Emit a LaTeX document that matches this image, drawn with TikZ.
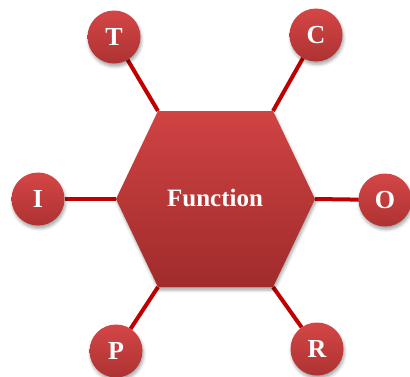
\documentclass[tikz,border=0pt]{standalone}
\usepackage{fontspec}
\setmainfont{Liberation Serif}
\usetikzlibrary{shadows.blur,backgrounds}
\definecolor{ctop}{HTML}{D44646}
\definecolor{cbot}{HTML}{AE3232}
\definecolor{htop}{HTML}{D04343}
\definecolor{hbot}{HTML}{A02B2B}
\definecolor{linkred}{HTML}{C00000}
\tikzset{
  x=1pt, y=1pt,
  ball/.style={circle, minimum size=53pt, inner sep=0pt, outer sep=0pt,
    top color=ctop, bottom color=cbot, draw=none,
    text=white, font=\fontsize{26}{26}\selectfont\bfseries,
    blur shadow={shadow xshift=1pt, shadow yshift=-3pt, shadow blur radius=3pt, shadow opacity=35}},
  link/.style={draw=linkred, line width=4pt},
  hexshape/.style={top color=htop, bottom color=hbot, draw=none,
    blur shadow={shadow xshift=1pt, shadow yshift=-3pt, shadow blur radius=3pt, shadow opacity=35}},
  label/.style={text=white, font=\fontsize{25}{25}\selectfont\bfseries}
}
\begin{document}
\begin{tikzpicture}
\useasboundingbox (0,0) rectangle (410,376);
% hexagon corners (y = 376 - image y)
\coordinate (hL) at (116,177);
\coordinate (hTL) at (158,265);
\coordinate (hTR) at (273,265);
\coordinate (hR) at (315,177);
\coordinate (hBR) at (273,89);
\coordinate (hBL) at (158,89);
\path[hexshape] (hL) -- (hTL) -- (hTR) -- (hR) -- (hBR) -- (hBL) -- cycle;
\node[label] (func) at (215,178) {Function};
% circles
\node[ball] (T) at (114,339) {T};
\node[ball] (C) at (316,341) {C};
\node[ball] (I) at (38,177) {I};
\node[ball] (O) at (385,176) {O};
\node[ball] (P) at (116,25) {P};
\node[ball] (R) at (317,27) {R};
\begin{scope}[on background layer]
\draw[link] (T) -- (hTL);
\draw[link] (C) -- (hTR);
\draw[link] (I) -- (hL);
\draw[link] (O) -- (hR);
\draw[link] (P) -- (hBL);
\draw[link] (R) -- (hBR);
\end{scope}
\end{tikzpicture}
\end{document}
